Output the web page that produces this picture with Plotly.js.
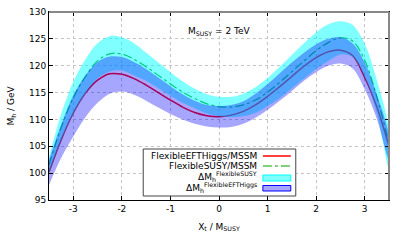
<!DOCTYPE html>
<html><head><meta charset="utf-8">
<script src="https://cdn.plot.ly/plotly-3.0.1.min.js"></script>
<style>html,body{margin:0;padding:0;background:#fff}#chart{width:407px;height:244px}</style>
</head><body><div id="chart"></div>
<script>
const xt = [-3.5,-3.25,-3.0,-2.75,-2.5,-2.25,-2.0,-1.75,-1.5,-1.25,-1.0,-0.75,-0.5,-0.25,0,0.25,0.5,0.75,1.0,1.25,1.5,1.75,2.0,2.25,2.5,2.75,3.0,3.25,3.5];
const mhEFT = [100.2,106.2,111.2,114.9,117.3,118.5,118.4,117.6,116.4,115.0,113.6,112.3,111.3,110.7,110.5,110.8,111.5,112.7,114.3,116.1,118.0,119.9,121.5,122.6,122.9,121.9,117.8,112.3,105.0];
const mhFS = [101.5,108.5,114.0,118.0,120.9,122.2,122.2,121.2,119.8,118.2,116.6,115.1,113.9,112.9,112.4,112.3,112.7,113.6,115.1,116.9,118.9,120.9,122.8,124.3,125.2,124.6,121.0,114.2,105.5];
const fsUpper = [103.0,111.0,117.0,121.2,124.2,125.5,125.3,124.2,122.4,120.6,118.8,117.1,115.7,114.7,114.2,114.2,114.8,116.0,117.7,119.8,122.0,124.2,126.2,127.7,128.3,127.6,124.1,117.3,108.0];
const fsLower = [100.0,106.0,111.0,114.8,117.6,118.9,119.1,118.2,117.2,115.8,114.4,113.1,112.1,111.1,110.6,110.4,110.6,111.2,112.5,114.0,115.8,117.6,119.4,120.9,122.1,121.6,117.9,111.1,100.8];
const eftUpper = [102.5,109.0,114.5,118.2,120.7,121.7,121.6,120.7,119.4,117.8,116.2,114.7,113.5,112.7,112.5,112.7,113.4,114.8,116.6,118.6,120.6,122.4,124.0,125.0,125.3,124.2,120.6,114.6,107.0];
const eftLower = [97.8,102.8,106.8,110.4,113.1,114.8,115.2,114.6,113.5,112.2,111.0,110.0,109.2,108.7,108.5,108.6,109.2,110.3,111.8,113.5,115.3,117.2,118.8,120.0,120.4,119.5,115.6,110.1,102.5];
const xTicks = [-3,-2,-1,0,1,2,3];
const yTicks = [95,100,105,110,115,120,125,130];
const legendLabels = ["FlexibleEFTHiggs/MSSM","FlexibleSUSY/MSSM","ΔM<sub>h</sub><sup>FlexibleSUSY</sup>","ΔM<sub>h</sub><sup>FlexibleEFTHiggs</sup>"];

const font = "DejaVu Sans, sans-serif";
const bandX = xt.concat(xt.slice().reverse());
const traces = [
  {x: xt, y: mhEFT, mode: 'lines', line: {color: '#ff0000', width: 1.5, shape:'spline', smoothing:1}, hoverinfo: 'skip'},
  {x: xt, y: mhFS, mode: 'lines', line: {color: '#009900', width: 1.2, dash: 'dashdot', shape:'spline', smoothing:1}, hoverinfo: 'skip'},
  {x: bandX, y: fsUpper.concat(fsLower.slice().reverse()), mode: 'lines', fill: 'toself', fillcolor: 'rgba(0,255,255,0.5)', line: {width: 0, shape:'spline', smoothing:1}, hoverinfo: 'skip'},
  {x: bandX, y: eftUpper.concat(eftLower.slice().reverse()), mode: 'lines', fill: 'toself', fillcolor: 'rgba(0,0,255,0.35)', line: {width: 0, shape:'spline', smoothing:1}, hoverinfo: 'skip'}
];

function px2x(p){return (p-48.5)/341;}
function py2y(p){return (200-p)/188;}

const shapes = [
  {type:'line', xref:'paper', yref:'paper', x0:0, x1:1, y0:1, y1:1, line:{color:'#888', width:2}, layer:'above'},
  {type:'line', xref:'paper', yref:'paper', x0:1, x1:1, y0:0, y1:1, line:{color:'#888', width:2}, layer:'above'},
  {type:'rect', xref:'paper', yref:'paper', x0:px2x(143), x1:px2x(296), y0:py2y(196), y1:py2y(149), line:{color:'#444', width:1}, fillcolor:'#fff', layer:'above'},
  {type:'line', xref:'paper', yref:'paper', x0:px2x(263), x1:px2x(291), y0:py2y(156), y1:py2y(156), line:{color:'#ff0000', width:1.5}, layer:'above'},
  {type:'line', xref:'paper', yref:'paper', x0:px2x(263), x1:px2x(291), y0:py2y(166), y1:py2y(166), line:{color:'#00a000', width:1.2, dash:'dashdot'}, layer:'above'},
  {type:'rect', xref:'paper', yref:'paper', x0:px2x(263), x1:px2x(291), y0:py2y(181), y1:py2y(175), line:{color:'#00ffff', width:1}, fillcolor:'rgba(0,255,255,0.5)', layer:'above'},
  {type:'rect', xref:'paper', yref:'paper', x0:px2x(263), x1:px2x(291), y0:py2y(191), y1:py2y(185.5), line:{color:'#0000ff', width:1}, fillcolor:'rgba(0,0,255,0.35)', layer:'above'}
];

const legendRowsY = [156, 166, 176.5, 187.5];
const annotations = legendLabels.map((t,i)=>({
  xref:'paper', yref:'paper', x:px2x(259), y:py2y(legendRowsY[i]), xanchor:'right', yanchor:'middle',
  text:t, showarrow:false, font:{family:font, size:9, color:'#000'}
}));
annotations.push({xref:'x', yref:'y', x:0, y:126.3, text:'M<sub>SUSY</sub> = 2 TeV', showarrow:false, xanchor:'center', yanchor:'middle', font:{family:font, size:9, color:'#000'}});

const axisCommon = {
  showline:true, linecolor:'#000', linewidth:1, mirror:'ticks', ticks:'inside', ticklen:4, tickcolor:'#000',
  showgrid:true, gridcolor:'#c4c4c4', griddash:'dot', gridwidth:1, zeroline:false,
  tickfont:{family:font, size:9, color:'#000'}
};
const layout = {
  width:407, height:244, margin:{l:48.5, r:17.5, t:12, b:44},
  paper_bgcolor:'#fff', plot_bgcolor:'#fff', showlegend:false,
  xaxis: Object.assign({}, axisCommon, {range:[-3.5,3.5], tickvals:xTicks, ticktext:xTicks.map(String),
    title:{text:'X<sub>t</sub> / M<sub>SUSY</sub>', font:{family:font, size:9, color:'#000'}, standoff:10}}),
  yaxis: Object.assign({}, axisCommon, {range:[95,130], tickvals:yTicks, ticktext:yTicks.map(String),
    title:{text:'M<sub>h</sub> / GeV', font:{family:font, size:9, color:'#000'}, standoff:12}}),
  shapes: shapes, annotations: annotations
};
Plotly.newPlot('chart', traces, layout, {staticPlot:true, displayModeBar:false});
</script></body></html>
